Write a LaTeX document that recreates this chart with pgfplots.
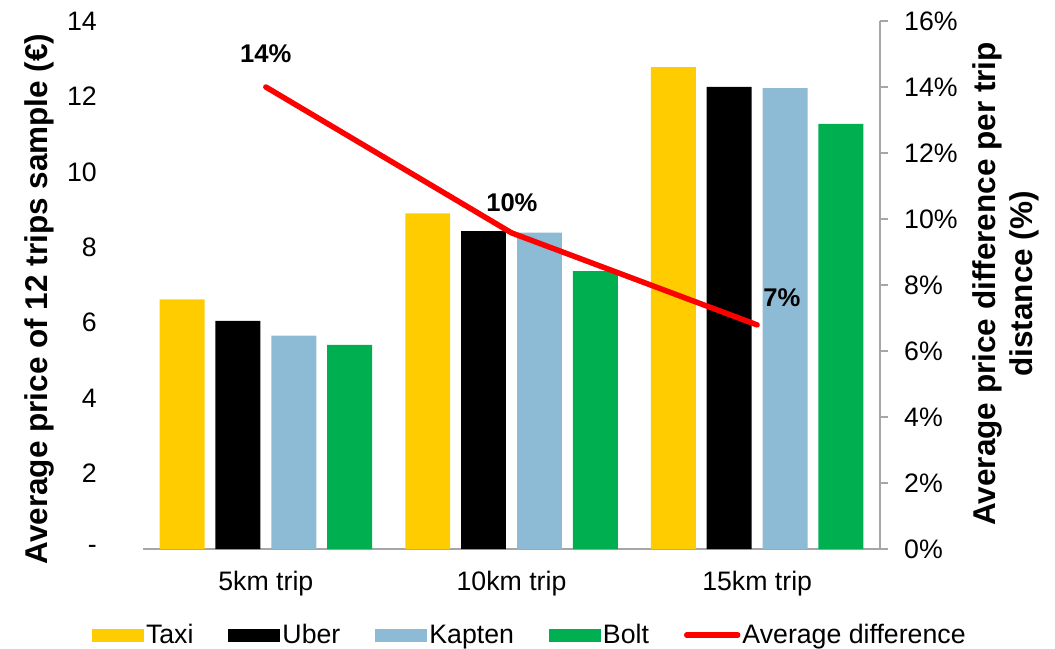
\documentclass[border=0pt]{standalone}
\usepackage{pgfplots}
\usepackage{pgfplotstable}
\pgfplotsset{compat=1.18}
\usepackage{fontspec}
\setmainfont{Liberation Sans}
\definecolor{taxi}{HTML}{FFCC00}
\definecolor{kapten}{HTML}{8DBAD4}
\definecolor{bolt}{HTML}{00B050}
\definecolor{axisgray}{HTML}{A6A6A6}
\newcommand\tickfont{\fontsize{26.7pt}{32pt}\selectfont}
\newcommand\labfont{\fontsize{31.5pt}{37.5pt}\selectfont\bfseries}
\pgfplotstableread{
x taxi uber kapten bolt
0 6.62 6.05 5.66 5.41
1 8.90 8.43 8.39 7.37
2 12.78 12.25 12.22 11.27
}\pricedata
\pgfplotstableread{
x diff
0 14.0
1 9.58
2 6.79
}\diffdata
\pgfplotsset{
  mybar/.style={ybar, fill=#1, draw=none, bar width=0.183,
    legend image code/.code={\fill[fill=#1] (0pt,-6.5pt) rectangle (52pt,6.5pt);}},
  mylinelegend/.style={legend image code/.code={\draw[##1, line cap=round] (2pt,0pt) -- (53pt,0pt);}},
}
\begin{document}
\begin{tikzpicture}
\useasboundingbox (0,0) rectangle (1055pt,648pt);
\begin{axis}[
  at={(143pt,99pt)}, anchor=south west,
  scale only axis, width=737pt, height=528pt,
  xmin=-0.5, xmax=2.5, ymin=0, ymax=14,
  axis x line*=bottom, axis y line*=left,
  y axis line style={draw=none},
  x axis line style={draw=axisgray, line width=2pt},
  xtick={0,1,2}, xticklabels={5km trip,10km trip,15km trip},
  ytick={0,2,...,14}, yticklabels={-\hspace{0.56em},2,4,6,8,10,12,14},
  major tick length=0pt, tick style={draw=none},
  ticklabel style={font=\tickfont},
  xticklabel style={anchor=base, yshift=-41pt},
  yticklabel style={anchor=east, inner sep=0pt, xshift=-46pt},
  every axis y label/.style={at={(axis description cs:-0.1289,0.4735)}, anchor=base, rotate=90, font=\labfont, inner sep=0pt},
  ylabel={Average price of 12 trips sample (€)},
  legend columns=5,
  legend style={draw=none, fill=none, inner sep=0pt, outer sep=0pt,
    at={(axis description cs:-0.0692,-0.163)}, anchor=west,
    font=\tickfont, nodes={inner sep=2pt},
    /tikz/every even column/.append style={column sep=33pt}},
]
\addplot[mybar=taxi, bar shift=-0.341] table[x=x, y=taxi] {\pricedata};
\addlegendentry{Taxi}
\addplot[mybar=black, bar shift=-0.114] table[x=x, y=uber] {\pricedata};
\addlegendentry{Uber}
\addplot[mybar=kapten, bar shift=0.114] table[x=x, y=kapten] {\pricedata};
\addlegendentry{Kapten}
\addplot[mybar=bolt, bar shift=0.341] table[x=x, y=bolt] {\pricedata};
\addlegendentry{Bolt}
\addlegendimage{red, line width=5.5pt, mylinelegend}
\addlegendentry{Average difference}
\end{axis}
\begin{axis}[
  at={(143pt,99pt)}, anchor=south west,
  scale only axis, width=737pt, height=528pt,
  xmin=-0.5, xmax=2.5, ymin=0, ymax=16,
  axis x line=none, axis y line*=right,
  y axis line style={draw=axisgray, line width=1.5pt},
  ytick={0,2,...,16},
  yticklabel={\pgfmathprintnumber{\tick}\%},
  /pgf/number format/assume math mode=true,
  tick align=outside, major tick length=8pt,
  ytick style={draw=axisgray, line width=1.5pt},
  ticklabel style={font=\tickfont},
  yticklabel style={anchor=west, inner sep=0pt, xshift=16pt},
  every axis y label/.style={at={(axis description cs:1.1248,0.502)}, anchor=north, rotate=90, align=center, font=\labfont, inner sep=0pt},
  ylabel={Average price difference per trip\\distance (\%)},
  clip=false,
]
\addplot[red, line width=5.5pt, line cap=round, line join=round] table[x=x, y=diff] {\diffdata};
\node[font=\fontsize{25.6pt}{30pt}\selectfont\bfseries] at (axis cs:0,15.0) {14\%};
\node[font=\fontsize{25.6pt}{30pt}\selectfont\bfseries] at (axis cs:1.0016,10.485) {10\%};
\node[font=\fontsize{25.6pt}{30pt}\selectfont\bfseries] at (axis cs:2.101,7.606) {7\%};
\end{axis}
\end{tikzpicture}
\end{document}
